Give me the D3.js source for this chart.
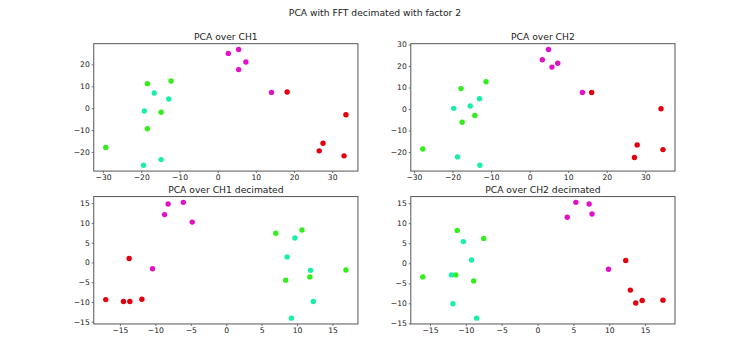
<!DOCTYPE html>
<html>
<head>
<meta charset="utf-8">
<script src="https://cdn.jsdelivr.net/npm/d3@7"></script>
<style>
  html, body { margin: 0; padding: 0; background: #fff; }
  svg { display: block; }
  text { font-family: "DejaVu Sans", sans-serif; fill: #222; }
</style>
</head>
<body>
<svg id="chart" width="750" height="364"></svg>
<script>
// ---- Data ----
const suptitle = "PCA with FFT decimated with factor 2";
const panelTitles = ["PCA over CH1", "PCA over CH2", "PCA over CH1 decimated", "PCA over CH2 decimated"];
const classNames = ["magenta", "red", "green", "cyan"];
const classColors = ["#e011c6", "#e3000e", "#33ee1a", "#19eeac"];

// CH1 (x, y) per class
const ch1Magenta = [[2.8, 25.0], [5.5, 26.8], [7.4, 21.1], [5.5, 17.6], [14.1, 7.2]];
const ch1Red     = [[18.2, 7.4], [33.6, -3.0], [27.6, -16.0], [26.6, -19.5], [33.1, -21.8]];
const ch1Green   = [[-18.4, 11.2], [-12.2, 12.4], [-14.8, -1.9], [-18.4, -9.4], [-29.3, -18.0]];
const ch1Cyan    = [[-16.6, 6.9], [-12.8, 4.2], [-19.2, -1.3], [-14.8, -23.5], [-19.4, -26.1]];

// CH2
const ch2Magenta = [[4.9, 27.7], [3.3, 22.9], [5.8, 19.5], [7.3, 21.3], [13.7, 7.7]];
const ch2Red     = [[16.1, 7.7], [34.1, 0.1], [27.9, -16.7], [27.2, -22.6], [34.6, -18.9]];
const ch2Green   = [[-17.8, 9.5], [-11.3, 12.7], [-14.2, -3.0], [-17.5, -6.2], [-27.7, -18.6]];
const ch2Cyan    = [[-15.4, 1.4], [-13.0, 4.8], [-19.7, 0.3], [-18.7, -22.3], [-12.9, -26.2]];

// CH1 decimated
const ch1dMagenta = [[-8.2, 14.8], [-6.05, 15.2], [-8.7, 12.1], [-4.8, 10.2], [-10.4, -1.6]];
const ch1dRed     = [[-13.7, 1.0], [-17.0, -9.4], [-14.5, -9.9], [-13.6, -9.9], [-11.9, -9.3]];
const ch1dGreen   = [[7.0, 7.4], [10.7, 8.2], [8.4, -4.5], [11.8, -3.7], [16.9, -1.9]];
const ch1dCyan    = [[9.7, 6.2], [8.6, 1.4], [11.9, -2.0], [12.3, -9.9], [9.2, -14.1]];

// CH2 decimated
const ch2dMagenta = [[5.35, 15.2], [7.2, 14.8], [7.6, 12.3], [4.15, 11.5], [9.9, -1.5]];
const ch2dRed     = [[12.3, 0.7], [12.95, -6.7], [13.7, -9.9], [14.6, -9.3], [17.5, -9.2]];
const ch2dGreen   = [[-11.2, 8.2], [-7.5, 6.2], [-16.0, -3.4], [-11.4, -2.9], [-8.9, -4.4]];
const ch2dCyan    = [[-10.35, 5.4], [-9.2, 0.8], [-12.0, -2.9], [-11.8, -10.1], [-8.5, -13.7]];

const xTicks = [[-30, -20, -10, 0, 10, 20, 30], [-30, -20, -10, 0, 10, 20, 30],
                [-15, -10, -5, 0, 5, 10, 15], [-15, -10, -5, 0, 5, 10, 15]];
const yTicks = [[-20, -10, 0, 10, 20], [-20, -10, 0, 10, 20, 30],
                [-15, -10, -5, 0, 5, 10, 15], [-15, -10, -5, 0, 5, 10, 15]];

const panels = [
  [ch1Magenta, ch1Red, ch1Green, ch1Cyan],
  [ch2Magenta, ch2Red, ch2Green, ch2Cyan],
  [ch1dMagenta, ch1dRed, ch1dGreen, ch1dCyan],
  [ch2dMagenta, ch2dRed, ch2dGreen, ch2dCyan]
];

// ---- Layout (matplotlib-like subplot params) ----
const W = 750, H = 364;
const mLeft = 0.125 * W, mRight = 0.9 * W, mTop = 0.12 * H, mBottom = 0.89 * H;
const pw = (mRight - mLeft) / 2.2, ph = (mBottom - mTop) / 2.2;
const svg = d3.select("#chart");

svg.append("text")
  .attr("x", W / 2).attr("y", 16)
  .attr("text-anchor", "middle")
  .style("font-size", "9.2px")
  .text(suptitle);

function padded(ext) {
  const s = ext[1] - ext[0];
  return [ext[0] - 0.05 * s, ext[1] + 0.05 * s];
}

panels.forEach((groups, i) => {
  const col = i % 2, row = Math.floor(i / 2);
  const x0 = mLeft + col * pw * 1.2;
  const y0 = mTop + row * ph * 1.2;
  const g = svg.append("g").attr("transform", `translate(${x0},${y0})`);
  const all = groups.flat();
  const x = d3.scaleLinear().domain(padded(d3.extent(all, d => d[0]))).range([0, pw]);
  const y = d3.scaleLinear().domain(padded(d3.extent(all, d => d[1]))).range([ph, 0]);

  groups.forEach((pts, k) => {
    g.append("g").selectAll("circle").data(pts).join("circle")
      .attr("cx", d => x(d[0])).attr("cy", d => y(d[1]))
      .attr("r", 2.7)
      .attr("fill", classColors[k]);
  });

  const xa = g.append("g").attr("transform", `translate(0,${ph})`)
    .call(d3.axisBottom(x).tickValues(xTicks[i]).tickSize(2).tickPadding(2).tickFormat(d => d < 0 ? "\u2212" + Math.abs(d) : d));
  const ya = g.append("g")
    .call(d3.axisLeft(y).tickValues(yTicks[i]).tickSize(2).tickPadding(2).tickFormat(d => d < 0 ? "\u2212" + Math.abs(d) : d));
  [xa, ya].forEach(a => {
    a.select(".domain").remove();
    a.selectAll("line").attr("stroke", "#333").attr("stroke-width", 0.7);
    a.selectAll("text").style("font-size", "7.6px").style("font-family", "DejaVu Sans, sans-serif").attr("fill", "#222");
  });

  g.append("rect").attr("x", 0).attr("y", 0).attr("width", pw).attr("height", ph)
    .attr("fill", "none").attr("stroke", "#555").attr("stroke-width", 1);

  g.append("text").attr("x", pw / 2).attr("y", -4)
    .attr("text-anchor", "middle").style("font-size", "9.2px")
    .text(panelTitles[i]);
});
</script>
</body>
</html>
